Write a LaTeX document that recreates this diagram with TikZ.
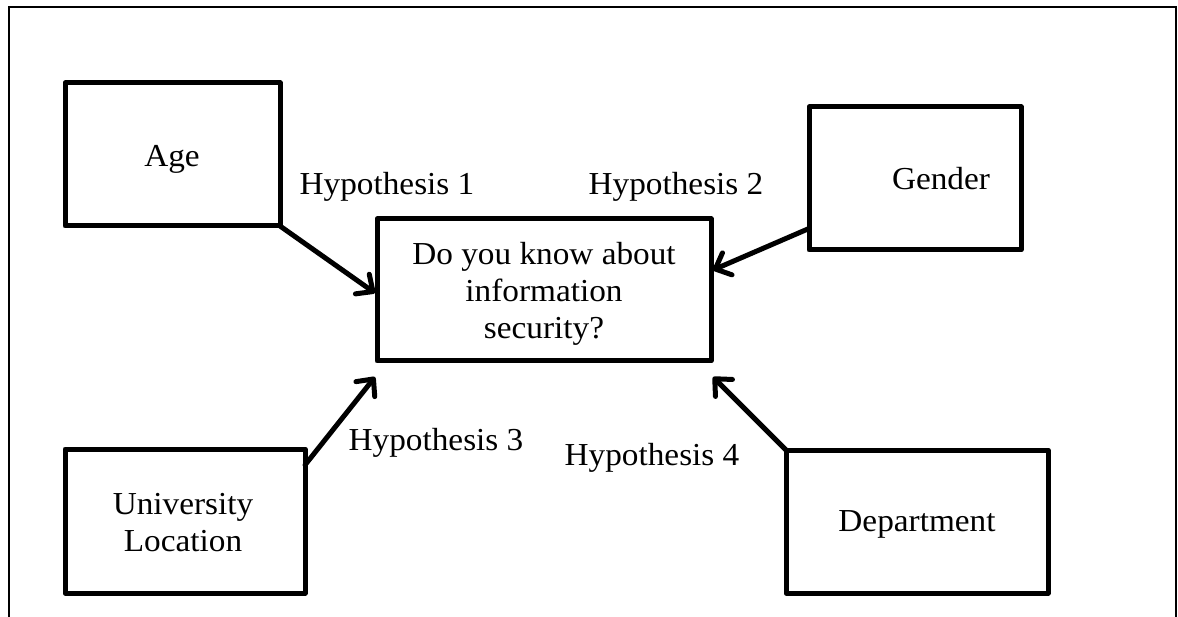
\documentclass[tikz,border=0pt]{standalone}
\usepackage{fontspec}
\setmainfont{Liberation Serif}[FakeStretch=1.04]
\usetikzlibrary{arrows.meta}
\begin{document}
\begin{tikzpicture}[x=1pt,y=-1pt,
  box/.style={draw,line width=5pt,inner sep=0pt,outer sep=0pt,line join=round},
  lbl/.style={font=\fontsize{32}{37}\selectfont,inner sep=0pt,align=center},
  conn/.style={line width=5pt,line cap=round,
    -{Straight Barb[length=13pt,width=24pt,line cap=round,line join=round]}}]
\useasboundingbox (0,0) rectangle (1178,617);
\draw[line width=2pt] (9,617) -- (9,7) -- (1176,7) -- (1176,617);
% boxes
\node[box,minimum width=215pt,minimum height=143pt] (age) at (172.5,154.5) {};
\node[box,minimum width=212pt,minimum height=143pt] (gender) at (915,178.5) {};
\node[box,minimum width=334pt,minimum height=142pt] (center) at (544,290) {};
\node[box,minimum width=240pt,minimum height=144pt] (univ) at (185,521) {};
\node[box,minimum width=262pt,minimum height=143pt] (dept) at (917,521.5) {};
% texts
\node[lbl,anchor=base] (tage) at (172,167) {Age};
\node[lbl,anchor=base] (tgender) at (941,190) {Gender};
\node[lbl] (tcenter) at (544,294) {\baselineskip=36pt Do you know about\\information\\security?};
\node[lbl] (tuniv) at (183,523) {\baselineskip=40pt University\\Location};
\node[lbl,anchor=base] (tdept) at (917,531) {Department};
\node[lbl,anchor=base] (h1) at (387,195) {Hypothesis 1};
\node[lbl,anchor=base] (h2) at (676,195) {Hypothesis 2};
\node[lbl,anchor=base] (h3) at (436,450) {Hypothesis 3};
\node[lbl,anchor=base] (h4) at (652,465) {Hypothesis 4};
% connectors
\draw[conn] (age.south east) -- ([xshift=-2pt,yshift=-3pt]center.west);
\draw[conn] ([yshift=-50pt]gender.west) -- ([xshift=2pt,yshift=20pt]center.east);
\draw[conn] ([yshift=-16pt]univ.north east) -- ([xshift=-2pt,yshift=-16pt]center.south west);
\draw[conn] (dept.north west) -- ([xshift=2pt,yshift=-16pt]center.south east);
\end{tikzpicture}
\end{document}
